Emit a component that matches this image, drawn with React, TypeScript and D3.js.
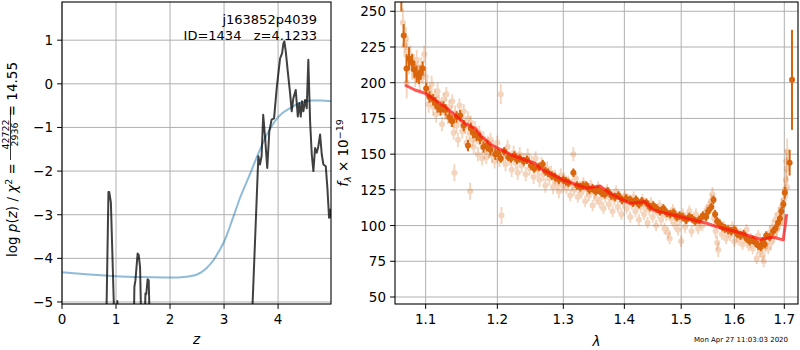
import * as d3 from 'd3';

// left panel: redshift probability
const pzZ = [0.8, 0.82, 0.86, 0.875, 0.905, 0.97, 1.015, 1.025, 1.035, 1.33, 1.34, 1.36, 1.4, 1.42, 1.445, 1.47, 1.53, 1.545, 1.56, 1.585, 1.605, 1.625, 3.5, 3.52, 3.635, 3.665, 3.695, 3.725, 3.76, 3.8, 3.838, 3.88, 3.926, 3.975, 4.037, 4.074, 4.1, 4.117, 4.143, 4.18, 4.222, 4.253, 4.283, 4.327, 4.365, 4.394, 4.42, 4.444, 4.469, 4.5, 4.531, 4.56, 4.593, 4.624, 4.654, 4.685, 4.716, 4.746, 4.778, 4.809, 4.84, 4.883, 4.913, 4.944, 4.963, 4.98];
const pzLog = [-9, -5.5, -2.48, -2.48, -2.72, -5.5, -5.3, -4.98, -5.3, -5.5, -4.65, -4.5, -3.89, -3.92, -4.2, -5.6, -5.5, -4.8, -4.82, -4.48, -4.5, -5.5, -9, -5.3, -1.66, -1.85, -1.66, -0.71, -1.24, -1.93, -1.09, -0.82, -0.79, -0.1, 0.58, 0.7, 0.93, 0.97, 0.74, 0.28, -0.21, -0.63, -0.33, -0.14, -0.75, -0.44, -0.75, -0.4, -0.63, -0.37, -0.56, 0.55, -0.86, -1.62, -2.0, -1.47, -1.58, -1.43, -1.16, -1.62, -1.85, -1.89, -2.38, -3.07, -2.88, -3.07];

const priorZ = [0, 0.5, 1.0, 1.5, 2.0, 2.3, 2.5, 2.67, 2.8, 2.9, 3.0, 3.16, 3.3, 3.47, 3.6, 3.79, 4.01, 4.22, 4.4, 4.62, 4.8, 4.98];
const priorLog = [-4.32, -4.37, -4.41, -4.43, -4.44, -4.42, -4.37, -4.23, -4.05, -3.85, -3.62, -3.09, -2.6, -2.1, -1.7, -1.17, -0.75, -0.56, -0.44, -0.38, -0.38, -0.4];

// right panel: spectrum, [wavelength, flux, error]
const specLight: [number, number, number][] = [
  [1.070, 242, 10], [1.072, 226, 8], [1.074, 231, 8], [1.075, 200, 11], [1.076, 222, 8], [1.078, 215, 9], [1.080, 219, 7],
  [1.082, 210, 8], [1.084, 213, 7], [1.086, 205, 8], [1.088, 216, 7], [1.090, 208, 7], [1.092, 202, 8], [1.094, 211, 7],
  [1.096, 206, 7], [1.098, 220, 6], [1.100, 204, 7],
  [1.102, 196, 6], [1.104, 185, 6], [1.106, 192, 6], [1.108, 199, 6], [1.110, 183, 6], [1.112, 190, 6], [1.114, 178, 6],
  [1.116, 194, 6], [1.118, 186, 6], [1.120, 182, 5], [1.122, 171, 5], [1.124, 188, 5], [1.126, 179, 5], [1.128, 192, 5],
  [1.130, 176, 5], [1.132, 183, 5], [1.134, 174, 5], [1.136, 187, 5], [1.138, 165, 5], [1.139, 137, 6], [1.140, 179, 5],
  [1.142, 170, 5], [1.144, 160, 5], [1.146, 184, 5], [1.148, 173, 5], [1.150, 166, 5], [1.152, 180, 5], [1.154, 169, 5],
  [1.156, 158, 5], [1.158, 175, 5], [1.160, 165, 5], [1.161, 124, 6], [1.162, 172, 5], [1.164, 160, 5], [1.166, 155, 5],
  [1.168, 168, 5], [1.170, 162, 5], [1.172, 150, 5], [1.174, 165, 5], [1.176, 158, 5], [1.178, 147, 5], [1.180, 161, 5],
  [1.182, 155, 5], [1.184, 148, 5], [1.186, 158, 5], [1.188, 152, 5], [1.190, 160, 5], [1.192, 149, 5], [1.194, 155, 5],
  [1.196, 145, 5], [1.198, 151, 5], [1.205, 192, 7], [1.206, 107, 6],
  [1.200, 158, 5], [1.203, 146, 5], [1.209, 149, 5], [1.212, 143, 5], [1.215, 155, 5], [1.218, 147, 5], [1.221, 139, 5],
  [1.224, 151, 5], [1.227, 144, 5], [1.230, 137, 5], [1.233, 150, 5], [1.236, 142, 5], [1.239, 146, 5], [1.242, 136, 5],
  [1.245, 149, 5], [1.248, 140, 5], [1.251, 144, 5], [1.254, 134, 5], [1.257, 147, 5], [1.260, 139, 5], [1.263, 132, 5],
  [1.266, 143, 5], [1.269, 136, 5], [1.272, 128, 5], [1.275, 140, 5], [1.278, 133, 5], [1.281, 137, 5], [1.284, 127, 5],
  [1.287, 134, 5], [1.290, 130, 5], [1.293, 124, 5], [1.296, 135, 5], [1.299, 128, 5],
  [1.302, 133, 4], [1.305, 126, 4], [1.308, 131, 4], [1.311, 121, 4], [1.314, 129, 4], [1.316, 150, 5], [1.317, 125, 4],
  [1.320, 133, 4], [1.323, 120, 4], [1.326, 127, 4], [1.329, 123, 4], [1.332, 130, 4], [1.335, 117, 4], [1.338, 125, 4],
  [1.341, 121, 4], [1.344, 128, 4], [1.347, 114, 4], [1.350, 123, 4], [1.353, 119, 4], [1.356, 127, 4], [1.359, 116, 4],
  [1.362, 122, 4], [1.365, 112, 4], [1.368, 120, 4], [1.371, 125, 4], [1.374, 115, 4], [1.377, 121, 4], [1.380, 110, 4],
  [1.383, 118, 4], [1.386, 124, 4], [1.389, 113, 4], [1.392, 120, 4], [1.395, 108, 4], [1.398, 116, 4],
  [1.401, 121, 4], [1.404, 112, 4], [1.407, 118, 4], [1.410, 106, 4], [1.413, 115, 4], [1.416, 120, 4], [1.419, 110, 4],
  [1.422, 116, 4], [1.425, 104, 4], [1.428, 113, 4], [1.431, 118, 4], [1.434, 108, 4], [1.437, 114, 4], [1.440, 102, 4],
  [1.443, 111, 4], [1.446, 116, 4], [1.449, 106, 4], [1.452, 112, 4], [1.455, 100, 4], [1.458, 109, 4], [1.461, 114, 4],
  [1.464, 104, 4], [1.467, 110, 4], [1.470, 98, 4], [1.473, 107, 4], [1.476, 95, 4], [1.479, 91, 4], [1.482, 105, 4],
  [1.485, 111, 4], [1.488, 101, 4], [1.491, 107, 4], [1.494, 97, 4], [1.497, 104, 4], [1.500, 89, 4],
  [1.503, 108, 4], [1.507, 99, 4], [1.511, 105, 4], [1.515, 110, 4], [1.519, 96, 4], [1.523, 103, 4], [1.527, 108, 4],
  [1.531, 98, 4], [1.535, 104, 4], [1.539, 100, 4], [1.543, 107, 4], [1.547, 111, 4], [1.551, 113, 4], [1.555, 117, 5],
  [1.558, 122, 5], [1.561, 105, 5], [1.564, 96, 5], [1.567, 88, 5], [1.569, 83, 5], [1.572, 101, 4], [1.576, 94, 4],
  [1.580, 99, 4], [1.584, 91, 4], [1.588, 97, 4], [1.592, 93, 4], [1.596, 99, 4], [1.600, 89, 4],
  [1.604, 96, 4], [1.608, 90, 4], [1.612, 94, 4], [1.616, 87, 4], [1.620, 92, 4], [1.624, 97, 4], [1.628, 86, 4],
  [1.632, 91, 4], [1.636, 84, 4], [1.640, 89, 4], [1.644, 77, 4], [1.647, 93, 4], [1.650, 82, 4], [1.653, 88, 4],
  [1.656, 79, 4], [1.658, 75, 4], [1.661, 85, 4], [1.664, 91, 4], [1.667, 84, 4], [1.670, 95, 5], [1.673, 88, 5],
  [1.676, 99, 5], [1.679, 93, 5], [1.682, 104, 5], [1.685, 97, 5], [1.688, 108, 5], [1.691, 102, 5], [1.694, 113, 6],
  [1.697, 106, 6], [1.699, 118, 6], [1.701, 125, 7], [1.703, 132, 7], [1.704, 145, 8], [1.705, 140, 8], [1.706, 127, 8],
  [1.706, 152, 9],
];

const specBinned: [number, number, number][] = [
  [1.068, 265, 15], [1.0711, 233, 8], [1.0747, 210, 10], [1.078, 217, 8], [1.082, 214, 6], [1.085, 209, 6], [1.088, 206, 6],
  [1.091, 204, 5], [1.093, 207, 5], [1.096, 210, 5], [1.1006, 196, 4], [1.105, 190, 4], [1.11, 188, 4], [1.113, 186, 4],
  [1.116, 183, 4], [1.12, 181, 4], [1.124, 183, 4], [1.127, 181, 4], [1.132, 176, 4], [1.136, 173, 4], [1.142, 176, 4],
  [1.147, 177, 4], [1.152, 170, 4], [1.158, 156, 4], [1.162, 168, 4], [1.165, 165, 4], [1.17, 163, 4], [1.175, 161, 4],
  [1.18, 155, 4], [1.185, 156, 4], [1.19, 153, 4], [1.197, 150, 4], [1.201, 151, 3], [1.205, 147, 3], [1.21, 152, 3],
  [1.216, 148, 3], [1.22, 147, 3], [1.225, 149, 3], [1.229, 146, 3], [1.233, 147, 3], [1.239, 145, 3], [1.244, 146, 3],
  [1.25, 142, 3], [1.255, 140, 3], [1.262, 141, 3], [1.268, 143, 3], [1.272, 138, 3], [1.276, 137, 3], [1.282, 135, 3],
  [1.287, 134, 3], [1.293, 132, 3], [1.3, 132, 3], [1.304, 131, 3], [1.308, 130, 3], [1.316, 137, 3], [1.322, 128, 3],
  [1.327, 127, 3], [1.332, 128, 3], [1.337, 128, 3], [1.342, 125, 3], [1.347, 126, 3], [1.352, 124, 3], [1.356, 125, 3],
  [1.362, 123, 3], [1.367, 122, 3], [1.372, 124, 3], [1.378, 121, 3], [1.384, 120, 3], [1.39, 121, 3], [1.396, 118, 3],
  [1.403, 119, 3], [1.41, 118, 3], [1.415, 116, 3], [1.42, 118, 3], [1.425, 115, 3], [1.43, 117, 3], [1.438, 116, 3],
  [1.444, 113, 3], [1.45, 114, 3], [1.456, 112, 3], [1.462, 110, 3], [1.468, 112, 3], [1.474, 109, 3], [1.48, 108, 3],
  [1.486, 109, 3], [1.492, 106, 3], [1.497, 107, 3], [1.503, 106, 3], [1.509, 104, 3], [1.515, 106, 3], [1.52, 105, 3],
  [1.526, 103, 3], [1.533, 104, 3], [1.54, 107, 3], [1.546, 106, 3], [1.55, 110, 3], [1.556, 113, 3], [1.56, 118, 3],
  [1.563, 108, 3], [1.567, 103, 3], [1.572, 101, 3], [1.577, 99, 3], [1.582, 98, 3], [1.588, 97, 3], [1.594, 96, 3],
  [1.6, 97, 3], [1.606, 94, 3], [1.612, 93, 3], [1.618, 94, 3], [1.624, 91, 3], [1.63, 89, 3], [1.636, 90, 3],
  [1.642, 88, 3], [1.647, 86, 3], [1.652, 85, 3], [1.656, 89, 3], [1.66, 87, 3], [1.663, 93, 3], [1.67, 92, 3],
  [1.677, 96, 3], [1.682, 98, 3], [1.687, 102, 3], [1.691, 105, 3], [1.694, 110, 3], [1.698, 115, 3], [1.701, 123, 4],
  [1.711, 144, 9], [1.716, 202, 35],
];

const modelWave = [1.0727, 1.0858, 1.0991, 1.1125, 1.1261, 1.1398, 1.1537, 1.1678, 1.1774, 1.1917, 1.2013, 1.221, 1.2409, 1.2561, 1.2637, 1.3, 1.3374, 1.3591, 1.3757, 1.4096, 1.4355, 1.45, 1.4619, 1.4857, 1.547, 1.566, 1.6044, 1.6504, 1.6773, 1.6978, 1.7049];
const modelFlux = [198.4, 194.9, 192.6, 187.9, 183.2, 177.4, 171.6, 168.1, 162.2, 156.4, 154.1, 149.4, 145.9, 143.6, 140.1, 131.9, 126.1, 127.7, 122.6, 115.6, 116.7, 111, 109.7, 107.4, 101.6, 99.2, 95.7, 90.4, 91.8, 90, 108];

const zTicks = [0, 1, 2, 3, 4];
const logTicks = [-5, -4, -3, -2, -1, 0, 1];
const waveTicks = [1.1, 1.2, 1.3, 1.4, 1.5, 1.6, 1.7];
const fluxTicks = [50, 75, 100, 125, 150, 175, 200, 225, 250];

const FONT = 'DejaVu Sans, sans-serif';
const ORANGE = '#d9650c';
const GRID = '#b0b0b0';

export default function App() {
  const L = { x0: 62, x1: 331, y0: 2, y1: 304 };
  const R = { x0: 395, x1: 798, y0: 2, y1: 304 };

  const zx = d3.scaleLinear().domain([0, 4.98]).range([L.x0, L.x1]);
  const zy = d3.scaleLinear().domain([-5.046, 1.875]).range([L.y1, L.y0]);
  const wx = d3.scaleLog().domain([1.0598, 1.7285]).range([R.x0, R.x1]);
  const fy = d3.scaleLinear().domain([45.1, 256.5]).range([R.y1, R.y0]);

  const pzLine = d3.line<number>().x((d, i) => zx(pzZ[i])).y(d => zy(d));
  const priorLine = d3.line<number>().x((d, i) => zx(priorZ[i])).y(d => zy(d)).curve(d3.curveMonotoneX);
  const modelLine = d3.line<number>().x((d, i) => wx(modelWave[i])).y(d => fy(d));

  const tick = 4.9;
  const fs = 13.5;
  const minus = (v: number) => String(v).replace('-', '\u2212');

  return (
    <svg width={800} height={350} style={{ position: 'absolute', left: 0, top: 0, background: '#fff' }} fontFamily={FONT}>
      <defs>
        <clipPath id="clipL"><rect x={L.x0} y={L.y0} width={L.x1 - L.x0} height={L.y1 - L.y0} /></clipPath>
        <clipPath id="clipR"><rect x={R.x0} y={R.y0} width={R.x1 - R.x0} height={R.y1 - R.y0} /></clipPath>
      </defs>

      {/* left panel grid */}
      <g stroke={GRID} strokeWidth={1}>
        {zTicks.map(t => <line key={'gz' + t} x1={zx(t)} x2={zx(t)} y1={L.y0} y2={L.y1} />)}
        {logTicks.map(t => <line key={'gl' + t} x1={L.x0} x2={L.x1} y1={zy(t)} y2={zy(t)} />)}
      </g>
      <g clipPath="url(#clipL)" fill="none">
        <path d={priorLine(priorLog) || ''} stroke="#1f77b4" strokeOpacity={0.5} strokeWidth={2} />
        <path d={pzLine(pzLog) || ''} stroke="#000" strokeOpacity={0.75} strokeWidth={2} strokeLinejoin="round" />
      </g>
      <rect x={L.x0} y={L.y0} width={L.x1 - L.x0} height={L.y1 - L.y0} fill="none" stroke="#000" strokeWidth={1.1} />
      <g stroke="#000" strokeWidth={1}>
        {zTicks.map(t => <line key={'tz' + t} x1={zx(t)} x2={zx(t)} y1={L.y1} y2={L.y1 + tick} />)}
        {logTicks.map(t => <line key={'tl' + t} x1={L.x0 - tick} x2={L.x0} y1={zy(t)} y2={zy(t)} />)}
      </g>
      <g fontSize={fs} fill="#000">
        {zTicks.map(t => <text key={'lz' + t} x={zx(t)} y={L.y1 + 20} textAnchor="middle">{t}</text>)}
        {logTicks.map(t => <text key={'ll' + t} x={L.x0 - 9} y={zy(t) + 5} textAnchor="end">{minus(t)}</text>)}
      </g>
      <text x={(L.x0 + L.x1) / 2} y={344} fontSize={fs} fontStyle="italic" textAnchor="middle">z</text>
      <g fontSize={13} textAnchor="end">
        <text x={317} y={24}>j163852p4039</text>
        <text x={317} y={39.5}>{'ID=1434\u00a0\u00a0\u00a0z=4.1233'}</text>
      </g>
      {/* left y label with fraction */}
      <g transform="translate(17,0) rotate(-90)" fontSize={fs}>
        <text x={-257} y={0}>
          log <tspan fontStyle="italic">p</tspan>(<tspan fontStyle="italic">z</tspan>) / <tspan fontStyle="italic">χ</tspan>
          <tspan fontSize={9.5} dy={-5}>2</tspan><tspan dy={5}> =</tspan>
        </text>
        <text x={-134.5} y={-8.5} fontSize={9.5} textAnchor="middle">42722</text>
        <line x1={-160} x2={-109} y1={-6.5} y2={-6.5} stroke="#000" strokeWidth={0.8} />
        <text x={-134.5} y={1} fontSize={9.5} textAnchor="middle">2936</text>
        <text x={-62} y={0} textAnchor="end">= 14.55</text>
      </g>

      {/* right panel grid */}
      <g stroke={GRID} strokeWidth={1}>
        {waveTicks.map(t => <line key={'gw' + t} x1={wx(t)} x2={wx(t)} y1={R.y0} y2={R.y1} />)}
        {fluxTicks.map(t => <line key={'gf' + t} x1={R.x0} x2={R.x1} y1={fy(t)} y2={fy(t)} />)}
      </g>
      <g clipPath="url(#clipR)">
        {specLight.map((d, i) => (
          <g key={'sl' + i} opacity={0.27}>
            <line x1={wx(d[0])} x2={wx(d[0])} y1={fy(d[1] - d[2])} y2={fy(d[1] + d[2])} stroke={ORANGE} strokeWidth={1.8} />
            <circle cx={wx(d[0])} cy={fy(d[1])} r={3} fill={ORANGE} />
          </g>
        ))}
        {specBinned.map((d, i) => (
          <g key={'sb' + i}>
            <line x1={wx(d[0])} x2={wx(d[0])} y1={fy(d[1] - d[2])} y2={fy(d[1] + d[2])} stroke={ORANGE} strokeWidth={2} />
            <circle cx={wx(d[0])} cy={fy(d[1])} r={3} fill={ORANGE} />
          </g>
        ))}
        <path d={modelLine(modelFlux) || ''} fill="none" stroke="#ff1010" strokeOpacity={0.7} strokeWidth={3} strokeLinejoin="round" />
      </g>
      <rect x={R.x0} y={R.y0} width={R.x1 - R.x0} height={R.y1 - R.y0} fill="none" stroke="#000" strokeWidth={1.1} />
      <g stroke="#000" strokeWidth={1}>
        {waveTicks.map(t => <line key={'tw' + t} x1={wx(t)} x2={wx(t)} y1={R.y1} y2={R.y1 + tick} />)}
        {fluxTicks.map(t => <line key={'tf' + t} x1={R.x0 - tick} x2={R.x0} y1={fy(t)} y2={fy(t)} />)}
      </g>
      <g fontSize={fs} fill="#000">
        {waveTicks.map(t => <text key={'lw' + t} x={wx(t)} y={R.y1 + 20} textAnchor="middle">{t.toFixed(1)}</text>)}
        {fluxTicks.map(t => <text key={'lf' + t} x={R.x0 - 9} y={fy(t) + 5} textAnchor="end">{t}</text>)}
      </g>
      <text x={(R.x0 + R.x1) / 2} y={346} fontSize={fs} fontStyle="italic" textAnchor="middle">λ</text>
      <g transform={`translate(348,${(R.y0 + R.y1) / 2}) rotate(-90)`} fontSize={fs} textAnchor="middle">
        <text>
          <tspan fontStyle="italic">f</tspan><tspan fontStyle="italic" fontSize={9.5} dy={3}>λ</tspan>
          <tspan dy={-3}> × 10</tspan><tspan fontSize={9.5} dy={-5}>−19</tspan>
        </text>
      </g>
      <text x={788} y={341.5} fontSize={7} textAnchor="end">Mon Apr 27 11:03:03 2020</text>
    </svg>
  );
}
